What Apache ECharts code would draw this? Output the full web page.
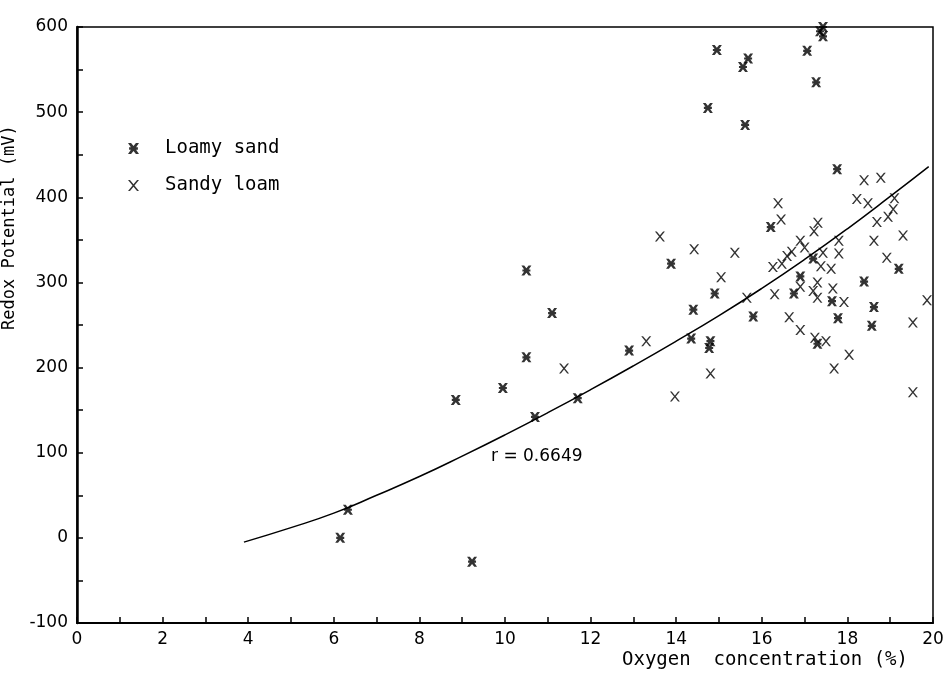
<!DOCTYPE html>
<html>
<head>
<meta charset="utf-8">
<script src="https://cdn.jsdelivr.net/npm/echarts@6/dist/echarts.min.js"></script>
<style>
html,body{margin:0;padding:0;background:#fff;}
#chart{width:944px;height:675px;}
</style>
</head>
<body>
<div id="chart"></div>
<script>
// loamy sand points [O2 %, mV]
const loamySand = [
  [6.15, 0], [6.33, 33], [9.23, -28], [8.85, 162], [9.95, 176],
  [10.5, 314], [10.5, 212], [10.7, 142], [11.1, 264], [11.7, 164],
  [12.9, 220], [13.88, 322], [14.9, 287], [14.4, 268], [14.35, 234],
  [14.8, 231], [14.77, 223], [15.8, 260], [14.74, 505], [14.95, 573],
  [15.56, 553], [15.68, 563], [15.61, 485], [17.06, 572], [17.27, 535],
  [17.43, 600], [17.36, 595], [17.43, 589], [17.76, 433], [16.21, 365],
  [16.75, 287], [16.9, 307], [17.3, 228], [17.78, 258], [17.64, 278],
  [17.2, 328], [18.39, 301], [18.62, 271], [18.57, 249], [19.2, 316]
];
// sandy loam points
const sandyLoam = [
  [11.38, 199], [13.3, 231], [13.62, 354], [14.42, 339], [15.37, 335],
  [15.05, 306], [15.65, 282], [14.8, 193], [13.97, 166], [16.3, 286],
  [16.64, 259], [16.9, 244], [17.24, 235], [17.5, 231], [17.69, 199],
  [18.04, 215], [17.92, 277], [17.66, 293], [17.3, 282], [17.2, 290],
  [16.9, 295], [17.3, 300], [16.26, 318], [16.47, 322], [16.59, 331],
  [16.7, 336], [16.9, 349], [17.0, 341], [17.43, 335], [17.38, 319],
  [17.62, 316], [17.8, 349], [17.8, 334], [17.22, 360], [17.31, 370],
  [16.38, 393], [16.45, 374], [18.39, 420], [18.78, 423], [18.22, 398],
  [18.48, 393], [19.1, 399], [19.07, 386], [18.95, 377], [18.69, 371],
  [19.3, 355], [18.62, 349], [18.92, 329], [19.86, 279], [19.53, 253],
  [19.53, 171]
];
// fitted curve
const fitX = [3.9, 5, 6, 7, 8, 9, 10, 11, 12, 13, 14, 15, 16, 17, 18, 19, 19.9];
const fitY = [-5, 12, 29, 50, 72, 96, 121, 147, 174, 202, 231, 261, 293, 327, 363, 401, 436];
const xTicks = [0, 2, 4, 6, 8, 10, 12, 14, 16, 18, 20];
const yTicks = [-100, 0, 100, 200, 300, 400, 500, 600];

const symX = 'path://M0,0 L1.8,0 L5,3.9 L8.2,0 L10,0 L5.9,5 L10,10 L8.2,10 L5,6.1 L1.8,10 L0,10 L4.1,5 Z';
const symStar = 'path://M0,0 L2.8,0 L5,2.8 L7.2,0 L10,0 L6.6,5 L10,10 L7.2,10 L5,7.2 L2.8,10 L0,10 L3.4,5 Z M1,3.9 L9,3.9 L9,6.1 L1,6.1 Z';

const font = 'DejaVu Sans';
const mono = '"DejaVu Sans Mono"';
const chart = echarts.init(document.getElementById('chart'));
chart.setOption({
  animation: false,
  backgroundColor: '#fff',
  grid: {
    left: 77, right: 11, top: 27, bottom: 52,
    containLabel: false, outerBoundsMode: 'none',
    show: true, borderColor: '#000', borderWidth: 1.5
  },
  legend: {
    orient: 'vertical',
    left: 123, top: 134,
    itemWidth: 11, itemHeight: 11,
    itemGap: 18,
    data: ['Loamy sand', 'Sandy loam'],
    textStyle: {fontFamily: 'DejaVu Sans Mono', fontSize: 19, color: '#000', padding: [0, 0, 0, 21]}
  },
  xAxis: {
    type: 'value', min: 0, max: 20, interval: 1,
    axisLine: {onZero: false, lineStyle: {color: '#000', width: 2}},
    axisTick: {inside: true, length: 6, lineStyle: {color: '#000', width: 1.5}},
    splitLine: {show: false},
    axisLabel: {
      fontFamily: font, fontSize: 17, color: '#000', margin: 8,
      formatter: v => xTicks.indexOf(v) >= 0 ? String(v) : ''
    }
  },
  yAxis: {
    type: 'value', min: -100, max: 600, interval: 50,
    axisLine: {lineStyle: {color: '#000', width: 2.5}},
    axisTick: {inside: true, length: 6, lineStyle: {color: '#000', width: 1.5}},
    splitLine: {show: false},
    axisLabel: {
      fontFamily: font, fontSize: 17, color: '#000', margin: 9,
      formatter: v => yTicks.indexOf(v) >= 0 ? String(v) : ''
    }
  },
  graphic: [
    {type: 'text', x: 10, y: 330, rotation: Math.PI / 2,
     style: {text: 'Redox Potential (mV)', font: '17px ' + mono, fill: '#000',
             align: 'left', verticalAlign: 'middle'}},
    {type: 'text', left: 622, top: 651,
     style: {text: 'Oxygen  concentration (%)', font: '19px ' + mono, fill: '#000'}},
    {type: 'text', left: 491, top: 448,
     style: {text: 'r = 0.6649', font: '17px ' + font, fill: '#000'}}
  ],
  series: [
    {
      name: 'Loamy sand', type: 'scatter', symbol: symStar, symbolSize: 10,
      itemStyle: {color: '#000'}, data: loamySand
    },
    {
      name: 'Sandy loam', type: 'scatter', symbol: symX, symbolSize: [10, 10],
      itemStyle: {color: '#000'}, data: sandyLoam
    },
    {
      name: 'fit', type: 'line', smooth: true, showSymbol: false, silent: true,
      lineStyle: {color: '#000', width: 1.5},
      data: fitX.map((x, i) => [x, fitY[i]])
    }
  ]
});
</script>
</body>
</html>
